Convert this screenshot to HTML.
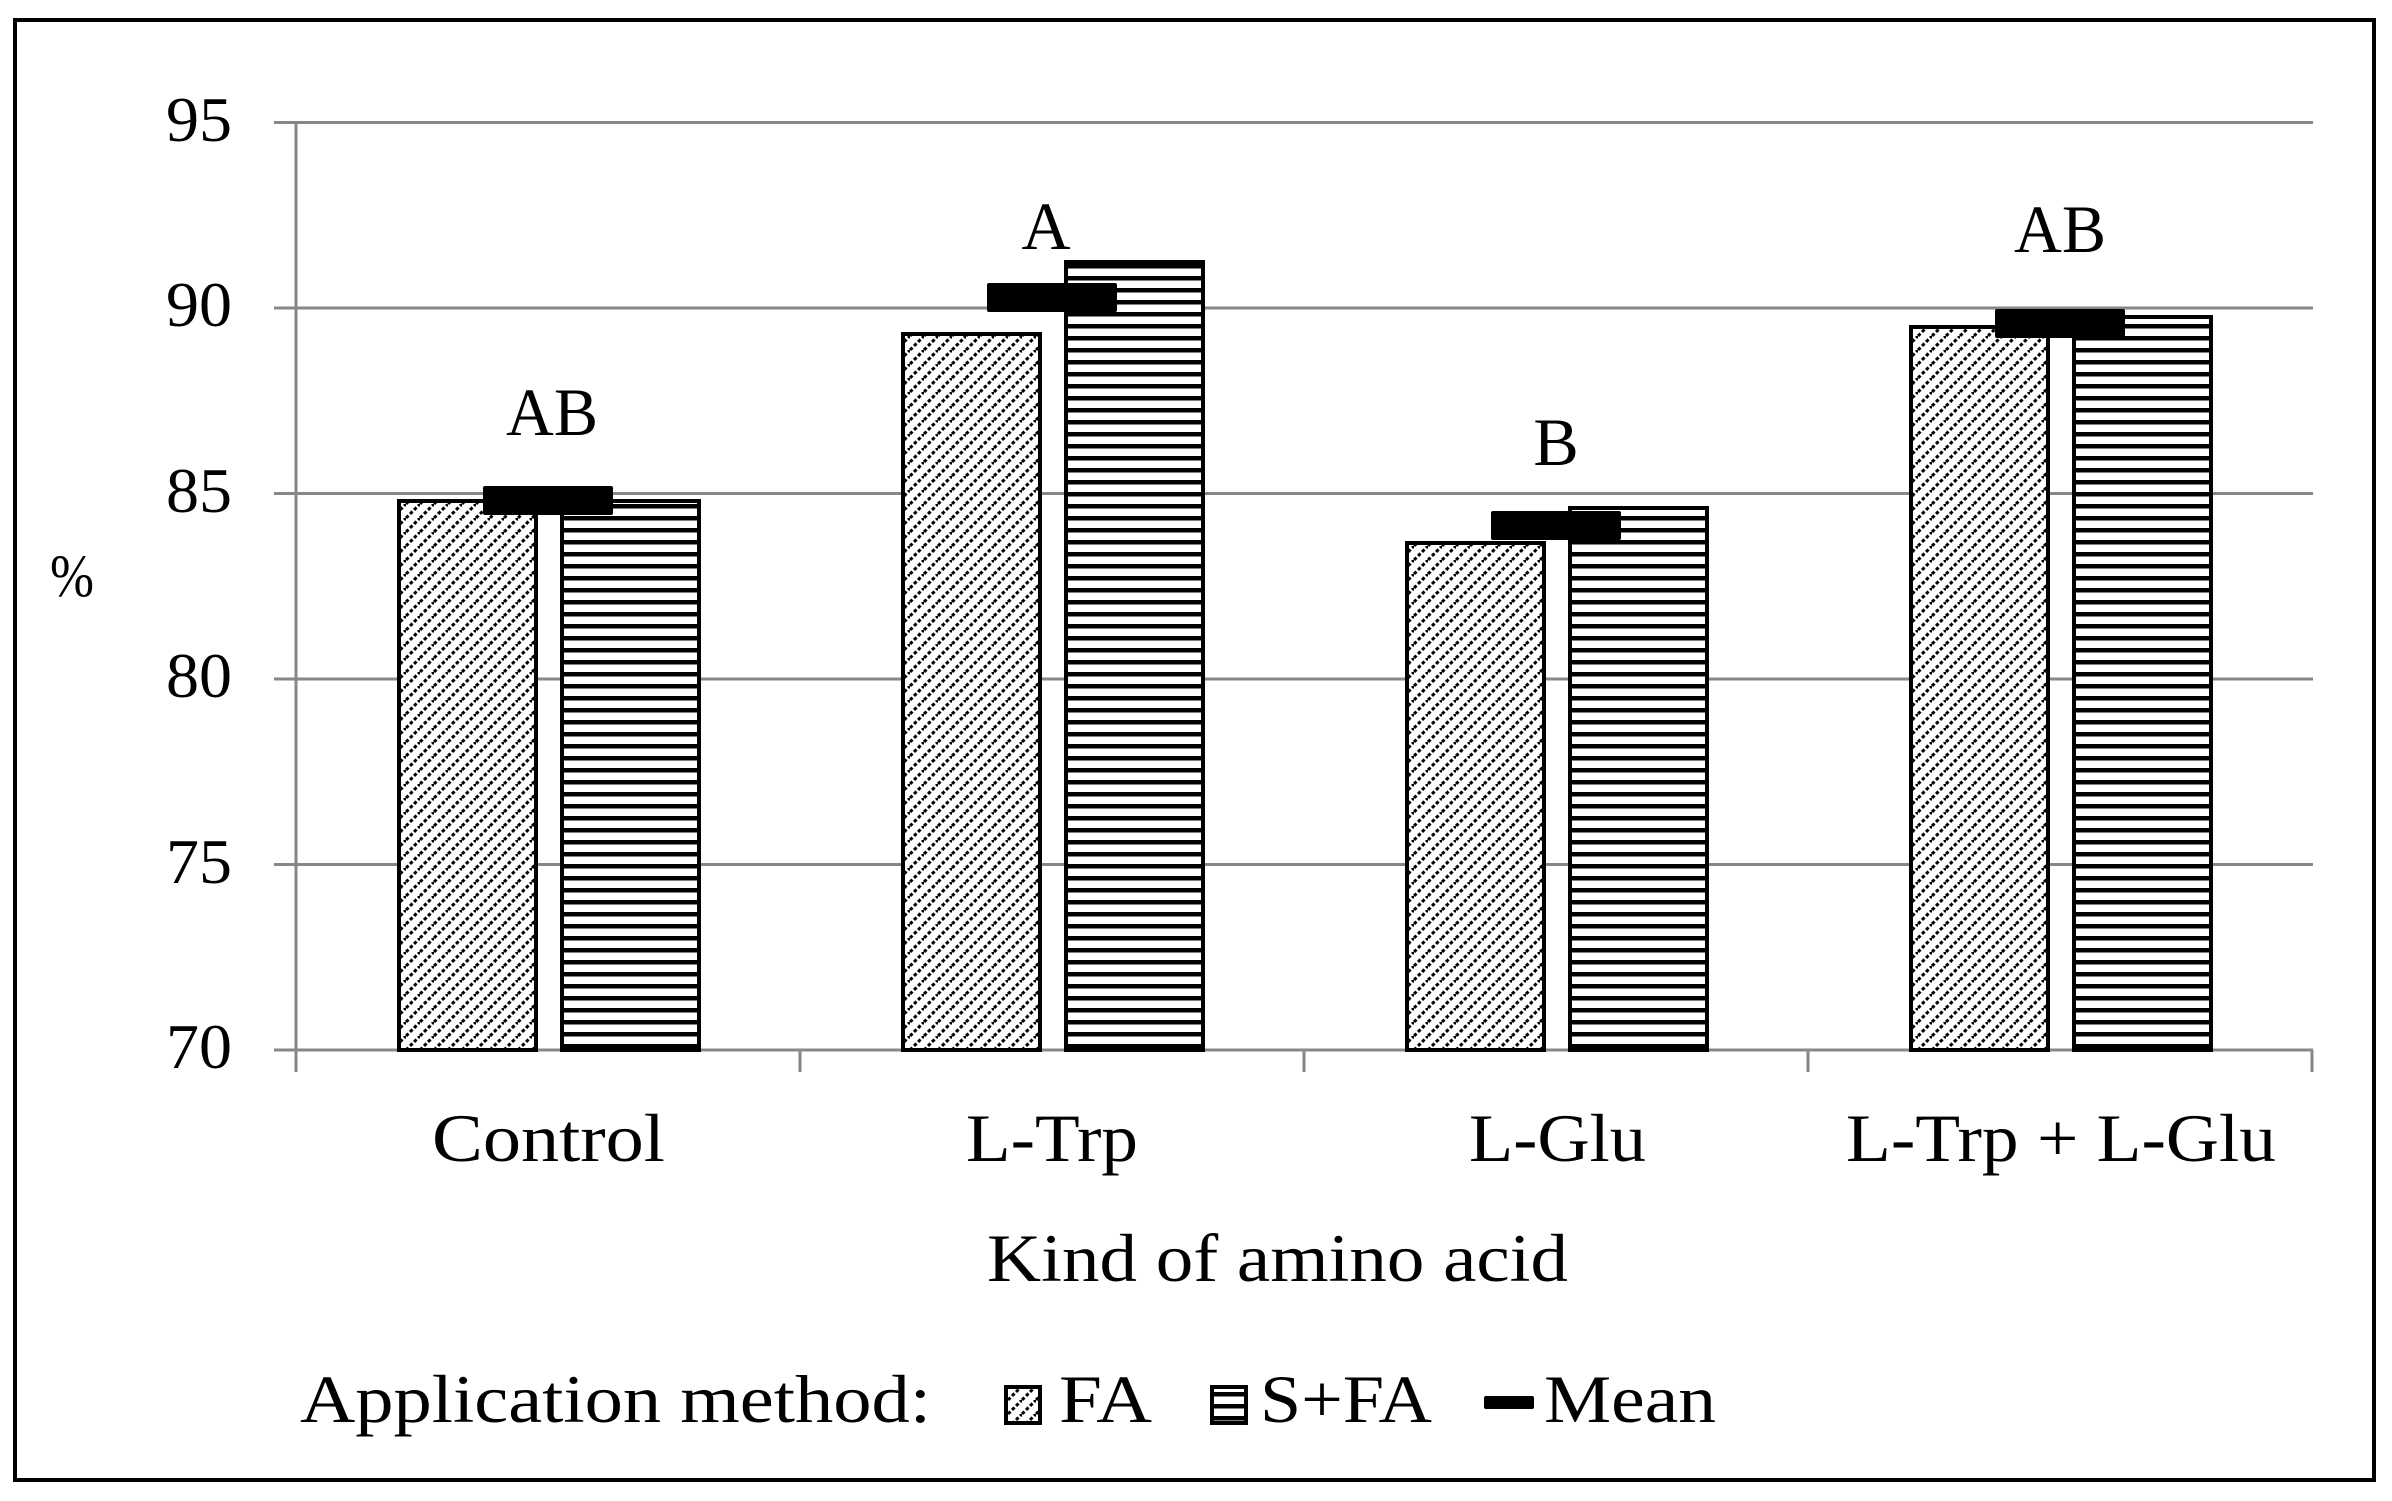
<!DOCTYPE html>
<html><head><meta charset="utf-8"><style>html,body{margin:0;padding:0;background:#fff}svg{display:block}</style></head>
<body>
<svg width="2392" height="1501" viewBox="0 0 2392 1501" xmlns="http://www.w3.org/2000/svg" font-family="'Liberation Serif', serif" fill="#000">
<defs>
<pattern id="diag" patternUnits="userSpaceOnUse" width="14" height="14">
<rect width="14" height="14" fill="#fff"/>
<path d="M-4,4 L4,-4 M0,14 L14,0 M10,18 L18,10" stroke="#000" stroke-width="3" stroke-dasharray="3.5,2.2"/>
</pattern>
<pattern id="horiz" patternUnits="userSpaceOnUse" width="12" height="12">
<rect width="12" height="12" fill="#fff"/>
<rect y="0" width="12" height="4.5" fill="#000"/>
</pattern>
</defs>
<rect x="0" y="0" width="2392" height="1501" fill="#fff"/>
<rect x="15" y="20" width="2359" height="1460" fill="none" stroke="#000" stroke-width="4"/>
<g stroke="#878787" stroke-width="3">
<line x1="274" y1="122.5" x2="2313" y2="122.5"/>
<line x1="274" y1="308" x2="2313" y2="308"/>
<line x1="274" y1="493.5" x2="2313" y2="493.5"/>
<line x1="274" y1="679" x2="2313" y2="679"/>
<line x1="274" y1="864.5" x2="2313" y2="864.5"/>
<line x1="274" y1="1050" x2="2313" y2="1050"/>
<line x1="296" y1="122" x2="296" y2="1072"/>
<line x1="800" y1="1050" x2="800" y2="1072"/>
<line x1="1304" y1="1050" x2="1304" y2="1072"/>
<line x1="1808" y1="1050" x2="1808" y2="1072"/>
<line x1="2312" y1="1050" x2="2312" y2="1072"/>
</g>
<g font-size="64" text-anchor="end">
<text x="232" y="141" textLength="66" lengthAdjust="spacingAndGlyphs">95</text>
<text x="232" y="326" textLength="66" lengthAdjust="spacingAndGlyphs">90</text>
<text x="232" y="512" textLength="66" lengthAdjust="spacingAndGlyphs">85</text>
<text x="232" y="697" textLength="66" lengthAdjust="spacingAndGlyphs">80</text>
<text x="232" y="883" textLength="66" lengthAdjust="spacingAndGlyphs">75</text>
<text x="232" y="1068" textLength="66" lengthAdjust="spacingAndGlyphs">70</text>
</g>
<text x="50" y="596" font-size="60" textLength="44" lengthAdjust="spacingAndGlyphs">%</text>
<g stroke="#000" stroke-width="4">
<rect x="399" y="501" width="137" height="549" fill="url(#diag)"/>
<rect x="562" y="501" width="137" height="549" fill="url(#horiz)"/>
<rect x="903" y="334" width="137" height="716" fill="url(#diag)"/>
<rect x="1066" y="262" width="137" height="788" fill="url(#horiz)"/>
<rect x="1407" y="543" width="137" height="507" fill="url(#diag)"/>
<rect x="1570" y="508" width="137" height="542" fill="url(#horiz)"/>
<rect x="1911" y="327" width="137" height="723" fill="url(#diag)"/>
<rect x="2074" y="317" width="137" height="733" fill="url(#horiz)"/>
</g>
<rect x="483" y="486" width="130" height="29" fill="#000" rx="2"/>
<rect x="987" y="283" width="130" height="29" fill="#000" rx="2"/>
<rect x="1491" y="511" width="130" height="29" fill="#000" rx="2"/>
<rect x="1995" y="309" width="130" height="29" fill="#000" rx="2"/>
<g font-size="68" text-anchor="middle">
<text x="552" y="435" textLength="92" lengthAdjust="spacingAndGlyphs">AB</text>
<text x="1046" y="249">A</text>
<text x="1556" y="465">B</text>
<text x="2060" y="252" textLength="92" lengthAdjust="spacingAndGlyphs">AB</text>
</g>
<g font-size="68">
<text x="432" y="1161" textLength="233" lengthAdjust="spacingAndGlyphs">Control</text>
<text x="966" y="1161" textLength="172" lengthAdjust="spacingAndGlyphs">L-Trp</text>
<text x="1469" y="1161" textLength="177" lengthAdjust="spacingAndGlyphs">L-Glu</text>
<text x="1846" y="1161" textLength="430" lengthAdjust="spacingAndGlyphs">L-Trp + L-Glu</text>
<text x="987" y="1281" textLength="581" lengthAdjust="spacingAndGlyphs">Kind of amino acid</text>
<text x="300" y="1422" textLength="631" lengthAdjust="spacingAndGlyphs">Application method:</text>
<text x="1059" y="1422" textLength="93" lengthAdjust="spacingAndGlyphs">FA</text>
<text x="1260" y="1422" textLength="172" lengthAdjust="spacingAndGlyphs">S+FA</text>
<text x="1544" y="1422" textLength="172" lengthAdjust="spacingAndGlyphs">Mean</text>
</g>
<rect x="1006" y="1387" width="34" height="36" fill="url(#diag)" stroke="#000" stroke-width="4"/>
<rect x="1212" y="1387" width="34" height="36" fill="url(#horiz)" stroke="#000" stroke-width="4"/>
<rect x="1484" y="1396" width="50" height="13" fill="#000" rx="2"/>
</svg>
</body></html>
